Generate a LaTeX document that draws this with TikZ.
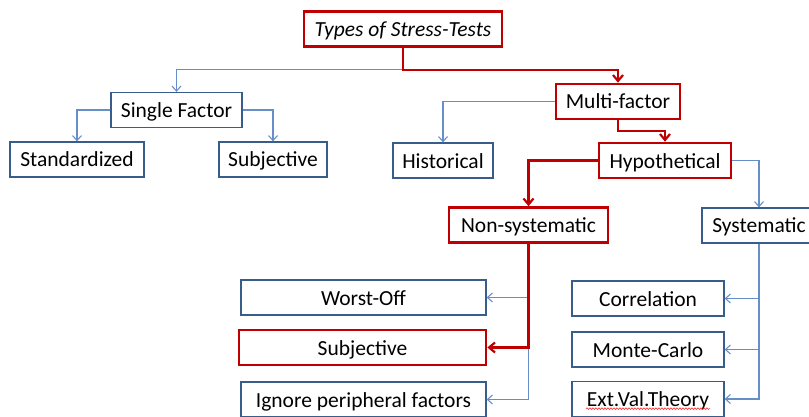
\documentclass[tikz,border=0pt]{standalone}
\usepackage{fontspec}
\setmainfont{Carlito}
\usetikzlibrary{arrows.meta,decorations.pathmorphing}

\definecolor{boxblue}{RGB}{56,93,138}
\definecolor{lineblue}{RGB}{102,142,200}
\definecolor{testred}{RGB}{192,0,0}

\begin{document}
\begin{tikzpicture}[x=1pt, y=-1pt,
    every node/.style={draw, rectangle, minimum height=35pt, inner sep=0pt, text height=17pt, text depth=2pt, font=\fontsize{21.5}{25}\selectfont},
    bluebox/.style={draw=boxblue, line width=1.3pt},
    redbox/.style={draw=testred, line width=2.6pt},
    blueline/.style={lineblue, line width=1.1pt, -{Straight Barb[length=5pt,width=9pt]}},
    redline/.style={testred, line width=2.2pt, -{Straight Barb[length=6pt,width=10pt]}},
    spellmark/.style={red!85, line width=0.6pt, decorate, decoration={snake, amplitude=0.8pt, segment length=3pt}}]
    \useasboundingbox[fill=white] (0,0) rectangle (809,417);

    % upper levels
    \node[redbox, minimum width=198pt] (types) at (403,29) {\itshape Types of Stress-Tests};
    \node[bluebox, minimum width=131pt] (single) at (176.5,110) {Single Factor};
    \node[redbox, minimum width=124pt] (multi) at (618,101.5) {Multi-factor};
    \node[bluebox, minimum width=134pt] (standard) at (77,159.5) {Standardized};
    \node[bluebox, minimum width=108pt] (subjone) at (273,159.5) {Subjective};
    \node[bluebox, minimum width=100pt] (hist) at (443,160.5) {Historical};
    \node[redbox, minimum width=132pt] (hypo) at (665,160.5) {Hypothetical};
    \node[redbox, minimum width=159pt] (nonsys) at (528.5,225) {Non-systematic};
    \node[bluebox, minimum width=114pt] (sys) at (759,225.5) {Systematic};

    % lower levels
    \node[bluebox, minimum width=245pt] (worst) at (363.5,297.5) {Worst-Off};
    \node[redbox, minimum width=247pt] (subjtwo) at (362.5,347.5) {Subjective};
    \node[bluebox, minimum width=245pt] (ignore) at (363.5,399.5) {Ignore peripheral factors};
    \node[bluebox, minimum width=152pt] (corr) at (648,298.5) {Correlation};
    \node[bluebox, minimum width=152pt] (monte) at (648,349.5) {Monte-Carlo};
    \node[bluebox, minimum width=152pt] (ext) at (648,399) {Ext.Val.Theory};
    \draw[spellmark] ([shift={(-62,-8.5)}]ext.south) -- ([shift={(62,-8.5)}]ext.south);

    % blue branches
    \draw[blueline] (types.south) -- ++(0,22) -| (single.north);
    \draw[blueline] (single.west) -| (standard.north);
    \draw[blueline] (single.east) -| (subjone.north);
    \draw[blueline] (multi.west) -| (hist.north);
    \draw[blueline] (hypo.east) -| (sys.north);
    \draw[blueline] (nonsys.south) |- (worst.east);
    \draw[blueline] (nonsys.south) |- (ignore.east);
    \draw[blueline] (sys.south) |- (corr.east);
    \draw[blueline] (sys.south) |- (monte.east);
    \draw[blueline] (sys.south) |- (ext.east);

    % highlighted path
    \draw[redline] (types.south) -- ++(0,22) -| (multi.north);
    \draw[redline] (multi.south) -- ++(0,11) -| (hypo.north);
    \draw[redline] (hypo.west) -| (nonsys.north);
    \draw[redline] (nonsys.south) |- (subjtwo.east);
\end{tikzpicture}
\end{document}
